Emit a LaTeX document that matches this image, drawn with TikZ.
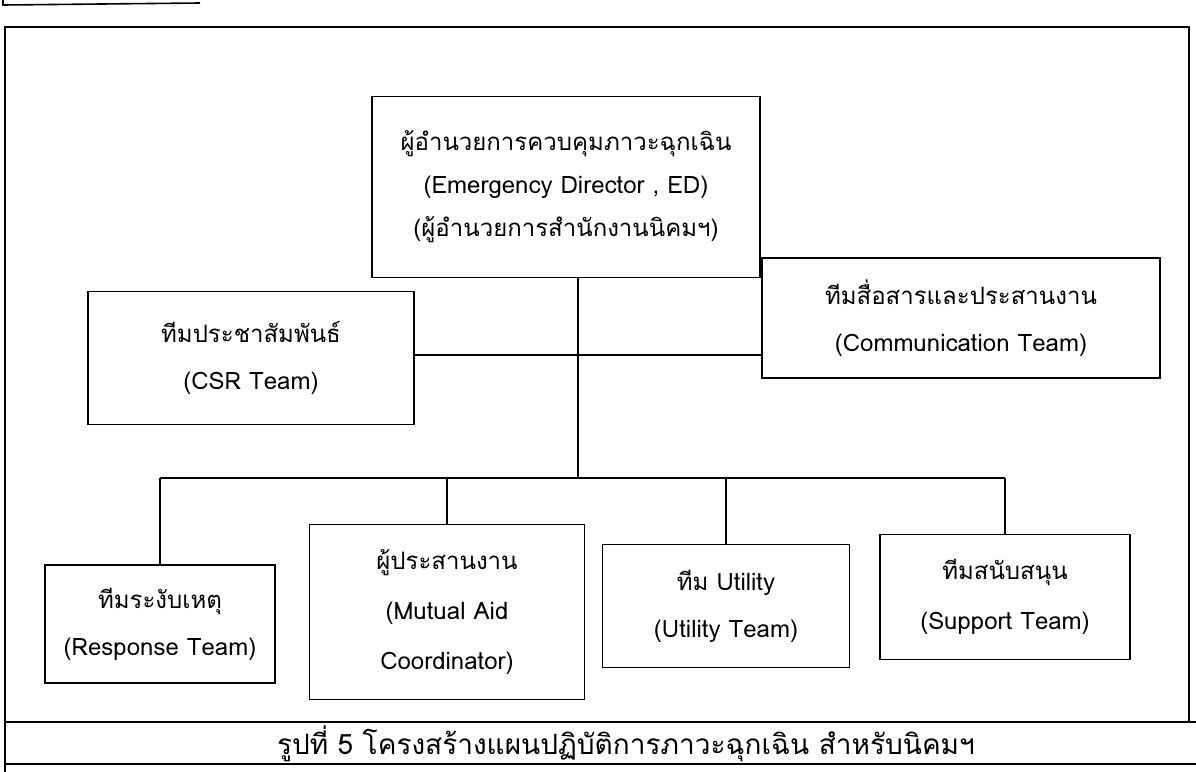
\documentclass[tikz,border=0pt]{standalone}
\usepackage{fontspec}
\newfontfamily\thai[Script=Thai]{Loma}
\begin{document}
\begin{tikzpicture}[x=0.5pt,y=-0.5pt,
  box/.style={draw, line width=0.8pt, align=center, inner sep=0pt,
    font=\thai\fontsize{12}{23.5}\selectfont},
  conn/.style={line width=0.6pt},
  frame/.style={line width=0.8pt}]
\useasboundingbox (0,0) rectangle (1196,772);
% fragment of the previous frame
\draw[frame] (3,0) -- (3,5) -- (200,3);
% outer frame
\draw[frame] (5,772) -- (5,27) -- (1189,27) -- (1189,722);
\draw[frame] (5,722) -- (1196,722);
\draw[frame] (5,764) -- (1196,764);
% boxes
\node[box, font=\thai\fontsize{12}{21.5}\selectfont, minimum width=194pt, minimum height=90.5pt] (ed) at (566,187)
  {ผู้อำนวยการควบคุมภาวะฉุกเฉิน\\(Emergency Director , ED)\\(ผู้อำนวยการสำนักงานนิคมฯ)};
\node[box, minimum width=163pt, minimum height=66.5pt] (csr) at (251,358)
  {ทีมประชาสัมพันธ์\\(CSR Team)};
\node[box, minimum width=199pt, minimum height=60pt] (comm) at (961,318)
  {ทีมสื่อสารและประสานงาน\\(Communication Team)};
\node[box, minimum width=115pt, minimum height=59pt] (resp) at (160,624)
  {ทีมระงับเหตุ\\(Response Team)};
\node[box, font=\thai\fontsize{12}{25}\selectfont, minimum width=137.5pt, minimum height=87.5pt] (mutual) at (447,612)
  {ผู้ประสานงาน\\(Mutual Aid\\Coordinator)};
\node[box, minimum width=123.5pt, minimum height=61.5pt] (util) at (726,606)
  {ทีม Utility\\(Utility Team)};
\node[box, font=\thai\fontsize{12}{25}\selectfont, minimum width=125pt, minimum height=62.5pt] (supp) at (1005,597)
  {ทีมสนับสนุน\\(Support Team)};
\node[font=\thai\fontsize{14}{16}\selectfont, inner sep=0pt] (cap) at (626,744)
  {รูปที่ 5 โครงสร้างแผนปฏิบัติการภาวะฉุกเฉิน สำหรับนิคมฯ};
% connectors
\coordinate (j1) at (578,355);
\coordinate (j2) at (578,478);
\draw[conn] (j1 |- ed.south) -- (j2);
\draw[conn] (csr.east |- j1) -- (comm.west |- j1);
\draw[conn] (resp.north |- j2) -- (supp.north |- j2);
\draw[conn] (resp.north) -- (resp.north |- j2);
\draw[conn] (mutual.north) -- (mutual.north |- j2);
\draw[conn] (util.north) -- (util.north |- j2);
\draw[conn] (supp.north) -- (supp.north |- j2);
\end{tikzpicture}
\end{document}
